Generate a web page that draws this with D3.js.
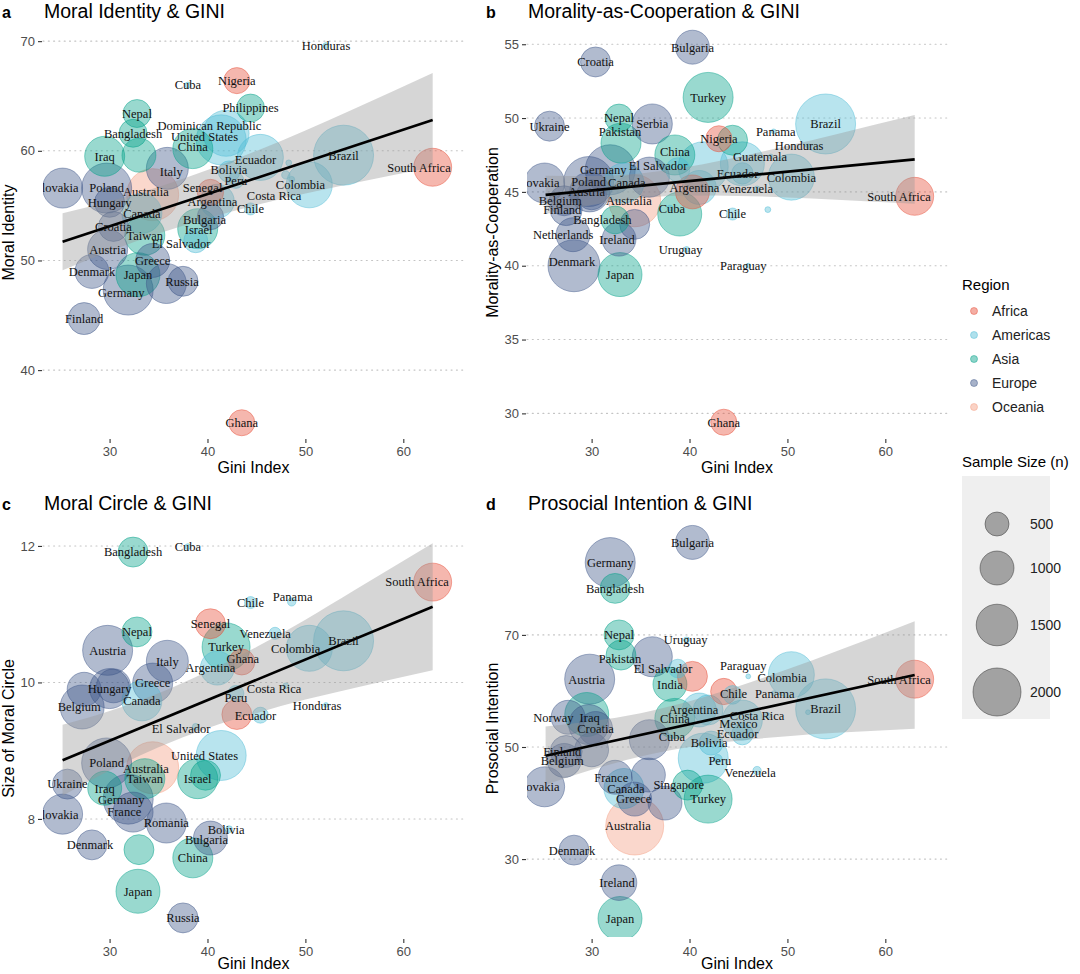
<!DOCTYPE html>
<html><head><meta charset="utf-8">
<script src="https://cdn.jsdelivr.net/npm/d3@7"></script>
<style>
body{margin:0;background:#fff}
svg{display:block}
text{font-family:Arial,"Liberation Sans",sans-serif}
</style>
</head><body>
<svg id="chart" width="1080" height="974"></svg>
<script>
// ---------------- DATA ----------------
const countries = ["Slovakia","Ukraine","Belgium","Finland","Norway","Netherlands","Denmark","Iraq","Poland","Austria","Hungary","Croatia","Germany","Bangladesh","France","Nepal","Ireland","Japan","Pakistan","Canada","Taiwan","Australia","Greece","Romania","Italy","Serbia","Russia","India","Cuba","China","El Salvador","Israel","Uruguay","Singapore","Senegal","Bulgaria","Argentina","United States","Turkey","Dominican Republic","Bolivia","Peru","Nigeria","Ghana","Chile","Philippines","Ecuador","Mexico","Paraguay","Venezuela","Costa Rica","Guatemala","Panama","Colombia","Honduras","Brazil","South Africa"];
const giniValues = [25.2,25.7,27.2,27.4,27.6,28.1,28.2,29.5,29.7,29.8,30.0,30.4,31.9,32.4,32.4,32.8,32.8,32.9,33.0,33.3,33.6,34.4,34.4,35.8,35.9,36.2,37.5,38.0,38.0,38.5,38.8,39.0,39.7,39.8,40.3,40.3,41.0,41.4,41.9,41.9,42.2,42.9,43.0,43.5,44.4,44.4,45.4,45.4,46.0,46.9,48.0,48.3,48.6,50.4,52.1,53.9,63.0];
const regionOf = ["Europe","Europe","Europe","Europe","Europe","Europe","Europe","Asia","Europe","Europe","Europe","Europe","Europe","Asia","Europe","Asia","Europe","Asia","Asia","Americas","Asia","Oceania","Europe","Europe","Europe","Europe","Europe","Asia","Americas","Asia","Americas","Asia","Americas","Asia","Africa","Europe","Americas","Americas","Asia","Americas","Americas","Americas","Africa","Africa","Americas","Asia","Americas","Americas","Americas","Americas","Americas","Americas","Americas","Americas","Americas","Americas","Africa"];

const regions = ["Africa","Americas","Asia","Europe","Oceania"];
const regionColors = ["#E64B35","#4DBBD5","#00A087","#3C5488","#F39B7F"];
const sizeBreaks = [500,1000,1500,2000];
const giniTicks = [30,40,50,60];

// Panel a: Moral Identity  [country, score, sample size]
const aRows = [["Honduras",69.6,30],["Nigeria",66.4,590],["Cuba",66.0,30],["Philippines",63.9,680],["Nepal",63.4,680],["Dominican Republic",61.6,1840],["United States",61.0,2170],["China",60.2,1390],["Bangladesh",61.6,680],["Iraq",59.5,1390],["Pakistan",59.6,1000],["Italy",58.4,1530],["Ecuador",59.4,1840],["Brazil",59.6,3125],["South Africa",58.5,1250],["Bolivia",58.1,400],["Peru",57.3,220],["Slovakia",56.6,1390],["Poland",56.6,2170],["Australia",56.0,2350],["Senegal",56.2,600],["Colombia",56.9,1840],["Argentina",55.4,1000],["Hungary",55.3,780],["Costa Rica",57.8,60],["Guatemala",58.9,30],["Panama",57.4,30],["Canada",54.3,1390],["Chile",54.7,125],["Bulgaria",54.0,600],["Croatia",53.1,780],["Israel",52.9,1390],["Taiwan",52.3,1390],["El Salvador",51.8,500],["Austria",51.0,1390],["Greece",50.0,1000],["Denmark",49.0,1000],["Japan",48.7,1680],["Romania",47.9,1390],["Russia",48.1,780],["Germany",47.3,2170],["Finland",44.7,890],["Ghana",35.2,590]];
const aLabelAt = {"Slovakia":[24.6,56.6],"South Africa":[61.6,58.5],"Dominican Republic":[40.2,62.3],"United States":[39.7,61.3],"China":[38.5,60.4],"Italy":[36.3,58.1],"Ecuador":[44.9,59.2],"Bolivia":[42.2,58.3],"Australia":[33.7,56.3],"Senegal":[39.5,56.6],"Colombia":[49.5,56.9],"Argentina":[40.5,55.4],"Costa Rica":[46.8,55.9],"Bulgaria":[39.7,53.7],"Israel":[39.1,52.8],"El Salvador":[37.3,51.5],"Russia":[37.4,48.1],"Germany":[31.2,47.1]};
const aNoLabel = ["Pakistan","Guatemala","Panama","Romania"];
const aTicks = [40,50,60,70];
const aFitX = [25.2,63], aFitY = [51.7,62.8];
const aBandX = [25.2,30,35,40,45,50,55,63];
const aBandLo = [49.1,50.83,52.45,53.85,55.05,56.10,57.07,58.5];
const aBandHi = [54.3,55.39,56.71,58.25,59.99,61.86,63.83,67.1];

// Panel b: Morality-as-Cooperation
const bRows = [["Bulgaria",54.8,1000],["Croatia",53.8,780],["Turkey",51.4,2170],["Ukraine",49.45,780],["Nepal",50.0,680],["Pakistan",48.3,1390],["Serbia",49.6,1390],["China",47.5,1390],["El Salvador",46.5,500],["Germany",46.5,2170],["Poland",45.7,2170],["Canada",45.6,1390],["Austria",45.0,1390],["Slovakia",45.6,1390],["Argentina",45.3,1000],["Belgium",44.4,780],["Australia",44.4,2350],["Finland",43.8,890],["Cuba",43.9,30],["Israel",43.5,1680],["Bangladesh",43.1,680],["Netherlands",42.1,1000],["Ireland",41.8,1000],["Greece",42.8,780],["Uruguay",41.1,30],["Denmark",40.0,2350],["Japan",39.4,1680],["Paraguay",40.0,20],["Ghana",29.4,590],["Nigeria",48.6,590],["Philippines",48.5,780],["Panama",49.1,20],["Brazil",49.6,3125],["Honduras",48.1,20],["Guatemala",47.4,20],["Mexico",46.9,1680],["Ecuador",46.25,400],["Colombia",46.0,1840],["Venezuela",45.2,30],["South Africa",44.7,1250],["Chile",43.5,125],["Costa Rica",43.8,30],["United States",46.7,2170],["Senegal",45.0,1000],["Hungary",44.8,780],["Italy",46.0,1390]];
const bLabelAt = {"Slovakia":[24.5,45.6],"South Africa":[61.4,44.7],"Pakistan":[32.9,49.1],"China":[38.5,47.7],"El Salvador":[36.8,46.8],"Germany":[31.2,46.5],"Canada":[33.6,45.6],"Austria":[29.5,45.0],"Argentina":[40.5,45.3],"Belgium":[26.8,44.4],"Australia":[33.8,44.4],"Finland":[27.0,43.8],"Cuba":[38.2,43.9],"Bangladesh":[31.1,43.1],"Netherlands":[27.1,42.1],"Ireland":[32.6,41.8],"Uruguay":[39.1,41.1],"Denmark":[28.0,40.3],"Paraguay":[45.5,40.0],"Panama":[48.8,49.1],"Honduras":[51.2,48.1],"Guatemala":[47.2,47.4],"Ecuador":[44.9,46.25],"Venezuela":[45.9,45.2]};
const bNoLabel = ["Israel","Greece","Philippines","Mexico","Costa Rica","United States","Senegal","Hungary","Italy"];
const bTicks = [30,35,40,45,50,55];
const bFitX = [25.3,63], bFitY = [44.8,47.2];
const bBandX = [25.3,30,35,40,45,50,55,63];
const bBandLo = [43.5,44.12,44.59,44.76,44.73,44.62,44.47,44.2];
const bBandHi = [46.1,46.08,46.25,46.72,47.37,48.12,48.91,50.2];

// Panel c: Size of Moral Circle
const cRows = [["Bangladesh",11.91,780],["Cuba",11.99,30],["Chile",11.17,125],["Panama",11.18,60],["South Africa",11.47,1250],["Senegal",10.86,780],["Nepal",10.74,780],["Venezuela",10.72,125],["Austria",10.47,2170],["Turkey",10.52,2000],["Italy",10.31,1530],["Ghana",10.30,590],["Argentina",10.21,1000],["Colombia",10.5,1840],["Brazil",10.61,3125],["Costa Rica",9.95,30],["Peru",9.84,220],["Ecuador",9.52,220],["Nigeria",9.53,780],["Honduras",9.67,20],["Hungary",9.91,1390],["Croatia",9.95,1000],["Finland",9.90,1000],["Greece",9.99,1390],["Canada",9.73,1390],["Belgium",9.64,1680],["El Salvador",9.35,40],["Poland",8.82,2170],["Australia",8.75,2350],["Taiwan",8.59,1390],["United States",8.93,2170],["Israel",8.59,1390],["Singapore",8.64,780],["Ukraine",8.51,780],["Iraq",8.45,1000],["Germany",8.29,2170],["France",8.10,1390],["Slovakia",8.07,1390],["Romania",7.94,1390],["Bolivia",7.85,40],["Bulgaria",7.72,1000],["Denmark",7.62,780],["Pakistan",7.55,780],["China",7.43,1390],["Japan",6.94,1680],["Russia",6.55,780]];
const cLabelAt = {"Slovakia":[24.6,8.07],"South Africa":[61.4,11.47],"Panama":[48.7,11.26],"Venezuela":[45.9,10.72],"Ghana":[43.6,10.35],"Argentina":[40.3,10.21],"Colombia":[49.0,10.5],"Costa Rica":[46.8,9.91],"Peru":[42.9,9.78],"Ecuador":[44.9,9.51],"Honduras":[51.2,9.66],"Belgium":[26.9,9.64],"El Salvador":[37.3,9.32],"Australia":[33.7,8.73],"United States":[39.7,8.93],"Germany":[31.2,8.29],"France":[31.5,8.10],"Bolivia":[41.9,7.85],"Bulgaria":[39.9,7.69],"Denmark":[28.0,7.62],"China":[38.5,7.43]};
const cNoLabel = ["Nigeria","Singapore","Pakistan","Croatia","Finland"];
const cTicks = [8,10,12];
const cFitX = [25.2,63], cFitY = [8.86,11.11];
const cBandX = [25.2,30,35,40,45,50,55,63];
const cBandLo = [8.34,8.71,9.05,9.33,9.55,9.75,9.92,10.18];
const cBandHi = [9.38,9.58,9.84,10.16,10.52,10.92,11.35,12.04];

// Panel d: Prosocial Intention
const dRows = [["Bulgaria",86.5,1000],["Germany",82.9,2170],["Bangladesh",78.3,780],["Nepal",70.0,780],["Uruguay",69.1,30],["Pakistan",66.4,780],["Serbia",66.1,1390],["El Salvador",64.0,300],["India",61.2,1000],["Senegal",62.6,780],["Austria",62.1,2170],["Paraguay",62.6,20],["Colombia",62.9,1840],["Chile",59.3,300],["Ghana",59.9,600],["Panama",59.6,20],["South Africa",62.1,1250],["Brazil",56.8,3125],["Honduras",56.2,20],["Argentina",56.6,1000],["Dominican Republic",56.6,780],["China",55.1,1390],["Norway",55.3,1000],["Iraq",55.8,1680],["Costa Rica",55.6,30],["Mexico",54.8,1390],["Croatia",53.3,1000],["Cuba",51.8,30],["Bolivia",50.7,500],["Ecuador",52.3,400],["Finland",49.2,890],["Belgium",47.6,1000],["Peru",47.9,60],["Venezuela",45.8,60],["Slovakia",42.9,1390],["France",44.6,1000],["Singapore",43.2,780],["Canada",42.6,1390],["Greece",40.7,1000],["Turkey",40.7,2000],["Australia",35.9,2920],["Denmark",31.6,780],["Ireland",25.8,1100],["Japan",19.4,1680],["United States",48.0,2170],["Italy",51.3,1390],["Hungary",49.5,1000],["Poland",54.0,1390],["Russia",40.0,1000],["Romania",45.0,1000]];
const dLabelAt = {"Slovakia":[24.5,42.9],"South Africa":[61.4,62.1],"Uruguay":[39.6,69.1],"Pakistan":[32.9,65.7],"El Salvador":[37.3,64.0],"Austria":[29.5,62.1],"Paraguay":[45.5,64.5],"Colombia":[49.45,62.4],"Chile":[44.5,59.5],"Panama":[48.7,59.6],"Argentina":[40.4,56.6],"China":[38.5,55.1],"Norway":[26.1,55.3],"Iraq":[29.8,55.3],"Costa Rica":[46.9,55.6],"Mexico":[45.0,54.1],"Cuba":[38.2,51.8],"Bolivia":[42.0,50.7],"Ecuador":[44.9,52.3],"Finland":[27.0,49.2],"Belgium":[27.0,47.6],"Peru":[43.1,47.5],"Venezuela":[46.2,45.5],"France":[32.0,44.6],"Singapore":[38.9,43.2],"Canada":[33.5,42.6],"Greece":[34.3,40.7],"Australia":[33.7,35.9],"Denmark":[28.0,31.6],"Ireland":[32.6,25.8],"Japan":[32.9,19.4]};
const dNoLabel = ["Serbia","Senegal","Ghana","Honduras","Dominican Republic","United States","Italy","Hungary","Poland","Russia","Romania"];
const dTicks = [30,50,70];
const dFitX = [25.3,63], dFitY = [48.45,62.85];
const dBandX = [25.3,30,35,40,45,50,55,63];
const dBandLo = [43.25,45.92,48.29,50.0,51.13,51.92,52.52,53.25];
const dBandHi = [53.65,54.58,56.03,58.14,60.83,63.86,67.08,72.45];

// ---------------- DRAWING ----------------
const svg = d3.select("#chart");
const defs = svg.append("defs");
const giniOf = new Map(countries.map((c,i)=>[c,giniValues[i]]));
const regOf = new Map(countries.map((c,i)=>[c,regionOf[i]]));
const color = d3.scaleOrdinal().domain(regions).range(regionColors);
const rScale = d3.scaleSqrt().domain([0,2000]).range([0,24]);

const panels = [
  {letter:"a", title:"Moral Identity & GINI", ylab:"Moral Identity", rows:aRows, labelAt:aLabelAt, noLabel:aNoLabel, ticks:aTicks, xDomain:[23.2,66.2], yDomain:[33.9,71.2], fitX:aFitX, fitY:aFitY, bx:aBandX, blo:aBandLo, bhi:aBandHi, left:43, right:464, top:28, bottom:437, xtitleY:473},
  {letter:"b", title:"Morality-as-Cooperation & GINI", ylab:"Morality-as-Cooperation", rows:bRows, labelAt:bLabelAt, noLabel:bNoLabel, ticks:bTicks, xDomain:[23.4,66.3], yDomain:[28.4,56.1], fitX:bFitX, fitY:bFitY, bx:bBandX, blo:bBandLo, bhi:bBandHi, left:527, right:947, top:28, bottom:437, xtitleY:473},
  {letter:"c", title:"Moral Circle & GINI", ylab:"Size of Moral Circle", rows:cRows, labelAt:cLabelAt, noLabel:cNoLabel, ticks:cTicks, xDomain:[23.2,66.2], yDomain:[6.27,12.38], fitX:cFitX, fitY:cFitY, bx:cBandX, blo:cBandLo, bhi:cBandHi, left:43, right:464, top:520, bottom:937, xtitleY:969},
  {letter:"d", title:"Prosocial Intention & GINI", ylab:"Prosocial Intention", rows:dRows, labelAt:dLabelAt, noLabel:dNoLabel, ticks:dTicks, xDomain:[23.4,66.3], yDomain:[16.1,90.5], fitX:dFitX, fitY:dFitY, bx:dBandX, blo:dBandLo, bhi:dBandHi, left:527, right:947, top:520, bottom:937, xtitleY:969}
];

panels.forEach((p,pi)=>{
  const x = d3.scaleLinear().domain(p.xDomain).range([p.left,p.right]);
  const y = d3.scaleLinear().domain(p.yDomain).range([p.bottom,p.top]);
  const g = svg.append("g");
  const clipId = "clip"+pi;
  defs.append("clipPath").attr("id",clipId)
    .append("rect").attr("x",p.left).attr("y",p.top-8).attr("width",p.right-p.left).attr("height",p.bottom-p.top+8);

  // gridlines
  g.append("g").selectAll("line").data(p.ticks).join("line")
    .attr("x1",p.left).attr("x2",p.right).attr("y1",d=>y(d)).attr("y2",d=>y(d))
    .attr("stroke","#c4c4c4").attr("stroke-width",1.1).attr("stroke-dasharray","1,4.3").attr("stroke-linecap","round");

  // axes
  const ya = d3.axisLeft(y).tickValues(p.ticks).tickFormat(d3.format("~g")).tickSize(4).tickPadding(3);
  const yg = g.append("g").attr("transform",`translate(${p.left-1},0)`).call(ya);
  const xa = d3.axisBottom(x).tickValues(giniTicks).tickFormat(d3.format("~g")).tickSize(4).tickPadding(4);
  const xg = g.append("g").attr("transform",`translate(0,${p.bottom+2})`).call(xa);
  [yg,xg].forEach(ax=>{
    ax.select(".domain").remove();
    ax.selectAll(".tick line").attr("stroke","#333").attr("stroke-width",1.1);
    ax.selectAll(".tick text").attr("fill","#4d4d4d").style("font-size","13px").style("font-family","Arial,'Liberation Sans',sans-serif");
  });

  const plot = g.append("g").attr("clip-path",`url(#${clipId})`);
  const rows = p.rows.slice().sort((a,b)=>b[2]-a[2]);
  plot.append("g").selectAll("circle").data(rows).join("circle")
    .attr("cx",d=>x(giniOf.get(d[0]))).attr("cy",d=>y(d[1])).attr("r",d=>rScale(d[2]))
    .attr("fill",d=>color(regOf.get(d[0]))).attr("fill-opacity",0.4)
    .attr("stroke",d=>color(regOf.get(d[0]))).attr("stroke-opacity",0.45).attr("stroke-width",1);

  // confidence band + fit
  const band = p.bx.map((v,i)=>({x:v,lo:p.blo[i],hi:p.bhi[i]}));
  plot.append("path").datum(band)
    .attr("d",d3.area().x(d=>x(d.x)).y0(d=>y(d.lo)).y1(d=>y(d.hi)).curve(d3.curveMonotoneX))
    .attr("fill","#999999").attr("fill-opacity",0.4);
  const fit = p.fitX.map((v,i)=>({x:v,y:p.fitY[i]}));
  plot.append("path").datum(fit).attr("d",d3.line().x(d=>x(d.x)).y(d=>y(d.y)))
    .attr("stroke","#000").attr("stroke-width",2.6).attr("fill","none");

  // labels
  const labRows = p.rows.filter(d=>!p.noLabel.includes(d[0]));
  plot.append("g").selectAll("text").data(labRows).join("text")
    .attr("x",d=>x(p.labelAt[d[0]] ? p.labelAt[d[0]][0] : giniOf.get(d[0])))
    .attr("y",d=>y(p.labelAt[d[0]] ? p.labelAt[d[0]][1] : d[1]))
    .attr("dy","0.35em").attr("text-anchor","middle")
    .style("font-family","'Liberation Serif','Times New Roman',serif").style("font-size","12.5px")
    .attr("fill","#111").text(d=>d[0]);

  // titles
  svg.append("text").attr("x",p.left-41).attr("y",p.top-10).text(p.letter)
    .style("font-weight","bold").style("font-size","16px").attr("fill","#000");
  svg.append("text").attr("x",p.left+1).attr("y",p.top-10).text(p.title)
    .style("font-size","19.5px").attr("fill","#000");
  svg.append("text").attr("transform",`translate(${p.left-29},${(p.top+p.bottom)/2}) rotate(-90)`)
    .attr("text-anchor","middle").text(p.ylab).style("font-size","16px").attr("fill","#000");
  svg.append("text").attr("x",(p.left+p.right)/2).attr("y",p.xtitleY).attr("text-anchor","middle")
    .text("Gini Index").style("font-size","16px").attr("fill","#000");
});

// ---------------- LEGENDS ----------------
const lg = svg.append("g");
lg.append("text").attr("x",962).attr("y",290).text("Region").style("font-size","15px").attr("fill","#000");
regions.forEach((r,i)=>{
  const cy = 311 + i*24;
  lg.append("circle").attr("cx",974).attr("cy",cy).attr("r",3.5)
    .attr("fill",color(r)).attr("fill-opacity",0.45).attr("stroke",color(r)).attr("stroke-opacity",0.45);
  lg.append("text").attr("x",992).attr("y",cy).attr("dy","0.35em").text(r).style("font-size","14px").attr("fill","#222");
});
lg.append("text").attr("x",962).attr("y",467).text("Sample Size (n)").style("font-size","15px").attr("fill","#000");
lg.append("rect").attr("x",962).attr("y",476).attr("width",88).attr("height",243).attr("fill","#efefef");
const sizeY = [524,568,625,692];
sizeBreaks.forEach((s,i)=>{
  lg.append("circle").attr("cx",997).attr("cy",sizeY[i]).attr("r",rScale(s))
    .attr("fill","#555").attr("fill-opacity",0.5).attr("stroke","#333").attr("stroke-opacity",0.5);
  lg.append("text").attr("x",1030).attr("y",sizeY[i]).attr("dy","0.35em").text(s).style("font-size","14px").attr("fill","#222");
});
</script>
</body></html>
